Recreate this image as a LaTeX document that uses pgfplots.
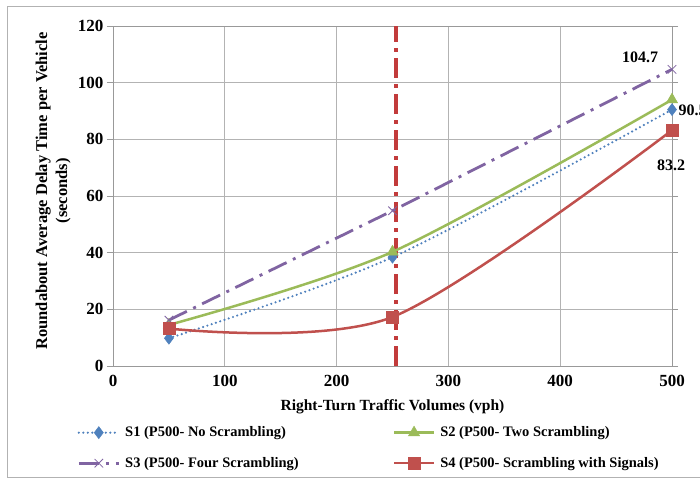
\documentclass[border=0pt]{standalone}
\usepackage{fontspec}
\setmainfont{Liberation Serif}
\usepackage{pgfplots}
\pgfplotsset{compat=1.18}
\definecolor{sone}{HTML}{4F81BD}
\definecolor{stwo}{HTML}{9BBB59}
\definecolor{sthree}{HTML}{8064A2}
\definecolor{sfour}{HTML}{C0504D}
\definecolor{vline}{HTML}{C23B3B}
\definecolor{gridc}{HTML}{B3B3B3}

\begin{document}
\begin{tikzpicture}
\useasboundingbox (0,0) rectangle (700pt,479pt);
\fill[white] (0,0) rectangle (700pt,479pt);
\draw[gray!60, line width=0.8pt] (7pt,2pt) rectangle (720pt,473pt);
\begin{axis}[
  at={(113pt,113pt)}, anchor=south west,
  scale only axis, width=559pt, height=340pt,
  xmin=0, xmax=500, ymin=0, ymax=120,
  xtick={0,100,...,500}, ytick={0,20,...,120},
  clip=false,
  grid=major, major grid style={gridc, line width=0.9pt},
  axis line style={gray!80, line width=0.9pt},
  tick align=outside, major tick length=6pt,
  ytick style={gray!80, line width=0.9pt},
  xtick style={draw=none},
  tick label style={font=\fontsize{17}{17}\selectfont\bfseries},
  /pgf/number format/assume math mode=true,
  xlabel={Right-Turn Traffic Volumes (vph)},
  ylabel={Roundabout Average Delay Time per Vehicle\\(seconds)},
  xlabel style={font=\fontsize{15.5}{20}\selectfont\bfseries,
    at={(axis description cs:0.5,-0.121)}, anchor=center},
  ylabel style={font=\fontsize{16.5}{20}\selectfont\bfseries, align=center,
    at={(axis description cs:-0.107,0.515)}, anchor=center},
  legend columns=2,
  legend cell align=left,
  legend style={at={(axis description cs:0.458,-0.241)}, anchor=center,
    draw=none, fill=none,
    font=\fontsize{14.5}{14.5}\selectfont\bfseries,
    row sep=15pt,
    /tikz/every odd column/.append style={column sep=3pt},
    /tikz/every even column/.append style={column sep=92pt}},
  legend image code/.code={\draw[mark repeat=2,mark phase=2,#1]
    plot coordinates {(0pt,0pt)(20pt,0pt)(40pt,0pt)};},
]
% reference line at 253 vph
\addplot[vline, line width=3.3pt, dash pattern=on 20pt off 6pt on 4pt off 6pt, forget plot]
  coordinates {(253,0) (253,120)};

\addplot[sone, line width=2.4pt, line cap=round, dash pattern=on 0pt off 4.5pt, smooth,
  mark=diamond*, mark size=6pt, mark options={solid, line width=0.5pt, fill=sone}]
  coordinates {(50,9.8) (250,38.4) (500,90.5)};
\addlegendentry{S1 (P500- No Scrambling)}

\addplot[stwo, line width=2.5pt, smooth,
  mark=triangle*, mark size=6.5pt, mark options={solid, line width=0.5pt, fill=stwo}]
  coordinates {(50,14.5) (250,40.3) (500,94.0)};
\addlegendentry{S2 (P500- Two Scrambling)}

\addplot[sthree, line width=2.8pt, dash pattern=on 20pt off 7pt on 3pt off 7pt,
  mark=x, mark size=6pt, mark options={solid, line width=0.8pt}]
  coordinates {(50,16.2) (250,54.8) (500,104.7)};
\addlegendentry{S3 (P500- Four Scrambling)}

\addplot[sfour, line width=2.5pt, smooth,
  mark=square*, mark size=6pt, mark options={solid, line width=0.5pt, fill=sfour}]
  coordinates {(50,13.2) (250,17.3) (500,83.2)};
\addlegendentry{S4 (P500- Scrambling with Signals)}

\node[font=\fontsize{16}{16}\selectfont\bfseries] at (axis cs:500,104.7) [xshift=-32pt, yshift=12pt] {104.7};
\node[font=\fontsize{16}{16}\selectfont\bfseries, anchor=west] at (axis cs:500,90.5) [xshift=3pt, yshift=-1pt] {90.5};
\node[font=\fontsize{16}{16}\selectfont\bfseries] at (axis cs:500,83.2) [xshift=-1pt, yshift=-35pt] {83.2};
\end{axis}
\end{tikzpicture}
\end{document}
